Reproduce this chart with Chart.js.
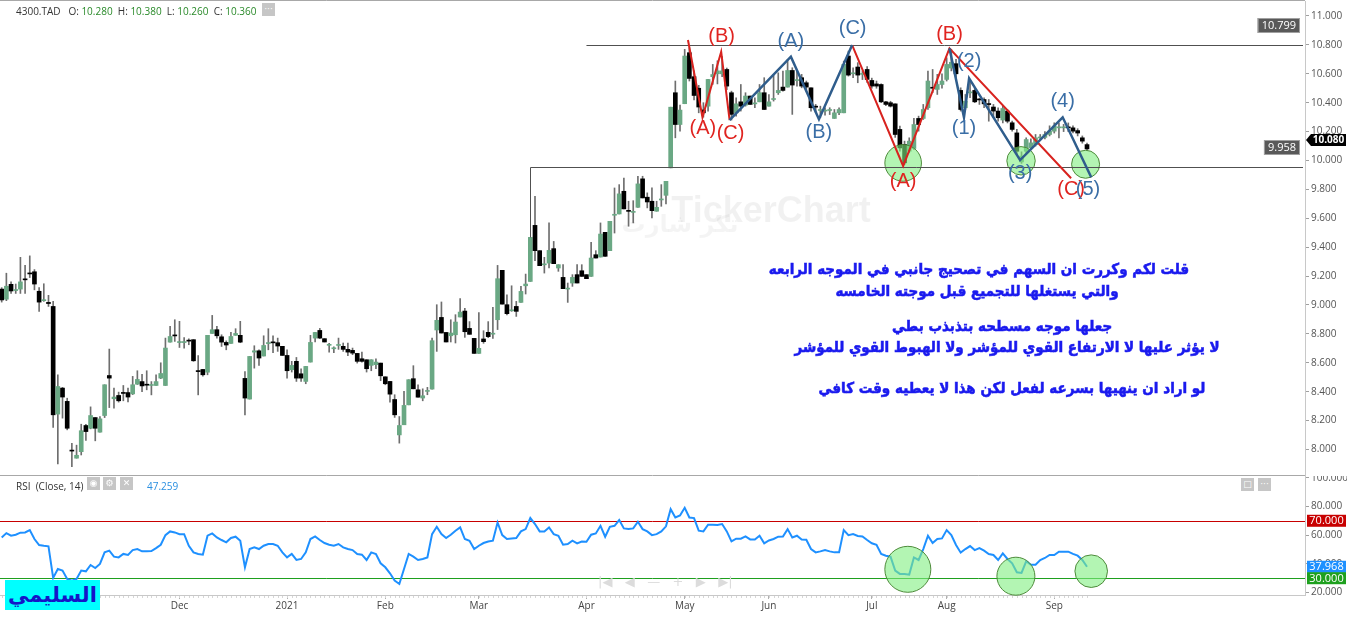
<!DOCTYPE html>
<html>
<head>
<meta charset="utf-8">
<title>4300.TAD</title>
<script src="https://cdn.jsdelivr.net/npm/chart.js@4.4.1/dist/chart.umd.min.js"></script>
<style>
  body { margin: 0; background: #fff; }
  #wrap { position: relative; width: 1347px; height: 617px; overflow: hidden; font-family: "Open Sans", sans-serif; }
  canvas { position: absolute; left: 0; }
  #priceChart { top: 0; }
  #rsiChart { top: 476px; }
  .lbl { position: absolute; font-size: 10px; color: #333; white-space: pre; line-height: 14px; }
  .val { color: #2a8a2a; }
  .btn { position: absolute; width: 13px; height: 13px; background: #c6c6c6; color: #fff; font: 9px "DejaVu Sans"; line-height: 13px; text-align: center; }
  #logo { position: absolute; left: 5px; top: 580px; width: 95px; height: 30px; background: #00ffff; color: #1515c8; font: bold 21px "DejaVu Sans"; text-align: center; line-height: 30px; }
  #nav { position: absolute; left: 598px; top: 574px; color: #dcdcdc; font: 13px "DejaVu Sans"; white-space: pre; }
</style>
</head>
<body>
<div id="wrap">
  <canvas id="priceChart" width="1347" height="476"></canvas>
  <canvas id="rsiChart" width="1347" height="141"></canvas>
  <div class="lbl" id="hdr" style="left:16px;top:4px"></div>
  <div class="btn" style="left:262px;top:3px">···</div>
  <div class="lbl" id="rsiHdr" style="left:16px;top:479px"></div>
  <div class="btn" style="left:87px;top:477px">◉</div>
  <div class="btn" style="left:103px;top:477px">⚙</div>
  <div class="btn" style="left:120px;top:477px">✕</div>
  <div class="lbl" id="rsiVal" style="left:147px;top:479px;color:#2a8fe0"></div>
  <div class="btn" style="left:1241px;top:478px">□</div>
  <div class="btn" style="left:1258px;top:478px">···</div>
  <div id="nav">|◀   ◀   —   +   ▶   ▶|</div>
  <div id="logo">السليمي</div>
</div>
<script>
const TICKER = "4300.TAD";

// daily candles, oldest first
const opens = [
  9.11, 9.04, 9.143, 9.10, 9.11, 9.175, 9.22, 9.23, 9.095, 9.03,
  9.018, 8.99, 8.245, 8.425, 8.333, 7.99, 7.94, 7.985, 8.166, 8.147,
  8.221, 8.12, 8.235, 8.512, 8.351, 8.374, 8.39, 8.394, 8.385, 8.452,
  8.47, 8.448, 8.443, 8.443, 8.494, 8.443, 8.743, 8.787, 8.74, 8.74,
  8.753, 8.76, 8.54, 8.554, 8.535, 8.803, 8.829, 8.78, 8.741, 8.734,
  8.79, 8.79, 8.492, 8.349, 8.674, 8.683, 8.647, 8.733, 8.739, 8.739,
  8.714, 8.651, 8.552, 8.61, 8.524, 8.471, 8.605, 8.771, 8.824, 8.767,
  8.721, 8.697, 8.72, 8.714, 8.693, 8.686, 8.665, 8.628, 8.621, 8.582,
  8.587, 8.598, 8.503, 8.471, 8.346, 8.101, 8.171, 8.309, 8.49, 8.413,
  8.356, 8.402, 8.418, 8.827, 8.914, 8.81, 8.787, 8.794, 8.917, 8.958,
  8.838, 8.769, 8.665, 8.765, 8.811, 8.798, 8.898, 9.24, 9.002, 8.96,
  8.99, 9.018, 9.133, 9.163, 9.551, 9.376, 9.278, 9.29, 9.39, 9.256,
  9.191, 9.11, 9.152, 9.21, 9.237, 9.21, 9.198, 9.348, 9.332, 9.503,
  9.376, 9.621, 9.63, 9.787, 9.649, 9.641, 9.676, 9.873, 9.746, 9.718,
  9.649, 9.727, 9.759, 9.949, 10.469, 10.249, 10.393, 10.746, 10.58, 10.50,
  10.35, 10.376, 10.58, 10.60, 10.60, 10.63, 10.469, 10.33, 10.406, 10.383,
  10.446, 10.392, 10.406, 10.469, 10.376, 10.422, 10.469, 10.508, 10.508, 10.623,
  10.553, 10.573, 10.538, 10.503, 10.37, 10.346, 10.342, 10.346, 10.291, 10.33,
  10.33, 10.723, 10.60, 10.647, 10.596, 10.63, 10.554, 10.53, 10.526, 10.406,
  10.40, 10.392, 10.215, 10.111, 10.064, 10.083, 10.291, 10.291, 10.365, 10.503,
  10.492, 10.526, 10.561, 10.64, 10.67, 10.485, 10.365, 10.468, 10.485, 10.42,
  10.422, 10.388, 10.37, 10.342, 10.28, 10.342, 10.261, 10.191, 9.99, 10.064,
  10.087, 10.11, 10.156, 10.16, 10.18, 10.203, 10.226, 10.226, 10.228, 10.226,
  10.207, 10.157, 10.11
];
const highs = [
  9.12, 9.22, 9.16, 9.145, 9.33, 9.275, 9.34, 9.245, 9.12, 9.147,
  9.067, 9.025, 8.517, 8.43, 8.355, 8.043, 8.03, 8.175, 8.175, 8.295,
  8.221, 8.228, 8.448, 8.695, 8.425, 8.397, 8.443, 8.425, 8.506, 8.545,
  8.52, 8.545, 8.47, 8.517, 8.60, 8.771, 8.852, 8.898, 8.887, 8.775,
  8.766, 8.76, 8.65, 8.554, 8.79, 8.928, 8.852, 8.794, 8.752, 8.81,
  8.836, 8.887, 8.54, 8.644, 8.718, 8.69, 8.787, 8.836, 8.787, 8.771,
  8.714, 8.69, 8.61, 8.637, 8.559, 8.575, 8.79, 8.81, 8.838, 8.767,
  8.734, 8.711, 8.771, 8.737, 8.737, 8.702, 8.665, 8.674, 8.621, 8.621,
  8.628, 8.598, 8.503, 8.471, 8.379, 8.228, 8.402, 8.483, 8.58, 8.448,
  8.42, 8.43, 8.771, 9.002, 9.021, 8.81, 8.898, 8.933, 9.044, 8.977,
  8.885, 8.769, 8.947, 8.822, 8.885, 8.984, 9.274, 9.24, 9.071, 9.133,
  9.025, 9.129, 9.214, 9.468, 9.752, 9.376, 9.33, 9.568, 9.44, 9.279,
  9.279, 9.152, 9.21, 9.279, 9.279, 9.21, 9.434, 9.376, 9.568, 9.503,
  9.579, 9.81, 9.833, 9.879, 9.718, 9.722, 9.891, 9.891, 9.776, 9.81,
  9.718, 9.833, 9.856, 10.369, 10.55, 10.383, 10.769, 10.78, 10.62, 10.52,
  10.40, 10.561, 10.665, 10.69, 10.72, 10.64, 10.48, 10.434, 10.526, 10.469,
  10.446, 10.434, 10.526, 10.573, 10.457, 10.596, 10.607, 10.619, 10.70, 10.642,
  10.619, 10.596, 10.55, 10.503, 10.388, 10.376, 10.365, 10.365, 10.353, 10.365,
  10.688, 10.757, 10.642, 10.677, 10.62, 10.65, 10.57, 10.55, 10.531, 10.41,
  10.41, 10.392, 10.238, 10.134, 10.157, 10.291, 10.307, 10.388, 10.619, 10.63,
  10.596, 10.60, 10.711, 10.77, 10.70, 10.503, 10.457, 10.561, 10.503, 10.43,
  10.434, 10.422, 10.388, 10.365, 10.38, 10.353, 10.272, 10.215, 10.06, 10.157,
  10.15, 10.18, 10.18, 10.20, 10.24, 10.261, 10.261, 10.25, 10.26, 10.24,
  10.22, 10.17, 10.12
];
const lows = [
  9.02, 9.03, 9.08, 9.08, 9.08, 9.08, 9.19, 9.105, 8.955, 9.025,
  8.99, 8.152, 7.90, 8.217, 8.136, 7.882, 7.94, 7.962, 8.062, 8.143,
  8.06, 8.12, 8.221, 8.29, 8.286, 8.328, 8.337, 8.33, 8.38, 8.45,
  8.40, 8.413, 8.378, 8.443, 8.49, 8.443, 8.743, 8.748, 8.706, 8.702,
  8.725, 8.61, 8.378, 8.508, 8.517, 8.803, 8.771, 8.713, 8.69, 8.734,
  8.79, 8.739, 8.24, 8.349, 8.563, 8.582, 8.647, 8.69, 8.67, 8.679,
  8.651, 8.494, 8.536, 8.471, 8.471, 8.455, 8.605, 8.744, 8.767, 8.744,
  8.674, 8.67, 8.693, 8.679, 8.649, 8.656, 8.598, 8.605, 8.536, 8.545,
  8.559, 8.476, 8.448, 8.328, 8.222, 8.044, 8.171, 8.309, 8.42, 8.362,
  8.337, 8.379, 8.418, 8.679, 8.806, 8.744, 8.744, 8.737, 8.917, 8.776,
  8.797, 8.665, 8.665, 8.735, 8.774, 8.769, 8.83, 9.006, 8.932, 8.956,
  8.921, 9.018, 9.076, 9.163, 9.307, 9.272, 9.221, 9.256, 9.286, 9.233,
  9.113, 9.018, 9.129, 9.152, 9.198, 9.182, 9.198, 9.325, 9.332, 9.337,
  9.376, 9.498, 9.63, 9.665, 9.545, 9.568, 9.676, 9.741, 9.672, 9.602,
  9.649, 9.683, 9.699, 9.949, 10.157, 10.203, 10.393, 10.55, 10.42, 10.33,
  10.30, 10.342, 10.527, 10.53, 10.58, 10.49, 10.28, 10.307, 10.342, 10.376,
  10.388, 10.365, 10.406, 10.353, 10.376, 10.411, 10.457, 10.48, 10.508, 10.319,
  10.515, 10.503, 10.48, 10.342, 10.33, 10.296, 10.314, 10.318, 10.291, 10.318,
  10.33, 10.584, 10.573, 10.538, 10.56, 10.54, 10.50, 10.50, 10.40, 10.38,
  10.37, 10.16, 10.064, 9.972, 10.053, 10.076, 10.203, 10.284, 10.353, 10.469,
  10.457, 10.50, 10.55, 10.62, 10.57, 10.342, 10.353, 10.434, 10.40, 10.388,
  10.365, 10.272, 10.296, 10.272, 10.26, 10.26, 10.203, 10.041, 9.98, 10.053,
  10.08, 10.10, 10.14, 10.15, 10.17, 10.19, 10.157, 10.20, 10.20, 10.19,
  10.17, 10.12, 10.07
];
const closes = [
  9.035, 9.13, 9.097, 9.101, 9.16, 9.174, 9.215, 9.145, 9.02, 9.035,
  9.01, 8.24, 8.436, 8.363, 8.147, 7.989, 7.96, 8.13, 8.124, 8.235,
  8.147, 8.212, 8.448, 8.494, 8.363, 8.337, 8.388, 8.363, 8.448, 8.485,
  8.44, 8.445, 8.444, 8.47, 8.526, 8.702, 8.782, 8.786, 8.741, 8.741,
  8.75, 8.614, 8.539, 8.517, 8.79, 8.829, 8.787, 8.743, 8.723, 8.782,
  8.803, 8.743, 8.356, 8.644, 8.683, 8.633, 8.72, 8.734, 8.738, 8.716,
  8.651, 8.545, 8.582, 8.494, 8.494, 8.575, 8.741, 8.81, 8.771, 8.744,
  8.722, 8.698, 8.722, 8.693, 8.674, 8.667, 8.61, 8.61, 8.559, 8.621,
  8.605, 8.51, 8.455, 8.383, 8.24, 8.166, 8.305, 8.483, 8.42, 8.362,
  8.372, 8.403, 8.753, 8.894, 8.806, 8.744, 8.806, 8.882, 8.951, 8.815,
  8.797, 8.665, 8.70, 8.746, 8.781, 8.799, 9.182, 9.006, 8.94, 8.961,
  8.956, 9.094, 9.145, 9.468, 9.376, 9.272, 9.279, 9.378, 9.286, 9.279,
  9.113, 9.111, 9.191, 9.152, 9.198, 9.182, 9.325, 9.325, 9.491, 9.337,
  9.579, 9.622, 9.769, 9.665, 9.648, 9.642, 9.838, 9.741, 9.713, 9.653,
  9.676, 9.728, 9.856, 10.369, 10.249, 10.349, 10.723, 10.568, 10.45, 10.37,
  10.33, 10.561, 10.595, 10.62, 10.62, 10.515, 10.319, 10.392, 10.376, 10.446,
  10.388, 10.393, 10.469, 10.353, 10.406, 10.423, 10.485, 10.485, 10.623, 10.522,
  10.554, 10.515, 10.508, 10.365, 10.369, 10.347, 10.343, 10.347, 10.33, 10.353,
  10.665, 10.591, 10.601, 10.591, 10.597, 10.561, 10.515, 10.515, 10.406, 10.388,
  10.376, 10.18, 10.087, 9.984, 10.134, 10.249, 10.249, 10.353, 10.55, 10.50,
  10.526, 10.55, 10.665, 10.68, 10.60, 10.353, 10.411, 10.469, 10.406, 10.419,
  10.392, 10.387, 10.342, 10.296, 10.36, 10.272, 10.215, 10.064, 10.03, 10.145,
  10.122, 10.157, 10.157, 10.18, 10.203, 10.238, 10.227, 10.227, 10.226, 10.203,
  10.19, 10.134, 10.08
];

// RSI (Close, 14), one value per candle
const rsiValues = [
  58.4, 61.4, 59.6, 60.3, 61.7, 61.9, 63.5, 57.3, 53.1, 52.6,
  52.2, 30.2, 36.4, 35.3, 29.5, 28.3, 29.5, 35.3, 34.8, 39.2,
  37.1, 39.9, 48, 49.2, 45, 44.5, 46.9, 46.2, 49.6, 50.3,
  48.7, 48.7, 48.9, 51, 53.3, 60, 62.6, 61.9, 60.7, 60.7,
  52.6, 48, 46.9, 46.4, 59.6, 61.2, 58.4, 56.6, 55, 58,
  58.9, 56.1, 37.6, 50.3, 51.5, 50.3, 52.6, 53.8, 53.8, 52.6,
  48, 44.5, 46.9, 42.7, 43.4, 48, 57.3, 59.1, 56.6, 54.5,
  53.3, 52.6, 53.8, 51.5, 50.3, 49.6, 46.9, 46.4, 42.7, 48,
  46.9, 40.4, 37.6, 33.4, 28.3, 26, 36.4, 46.9, 45, 42.7,
  43.4, 44.5, 60.7, 65.8, 60.7, 58, 60.3, 63.1, 65.4, 57.3,
  56.1, 50.3, 52.6, 54.5, 55.6, 56.1, 68.8, 60, 57.3, 57.7,
  58, 62.6, 64.2, 71.9, 67.7, 62.6, 62.6, 65.4, 60.7, 59.6,
  53.3, 53.8, 56.1, 54.3, 55.6, 55.4, 60.3, 61.2, 66.5, 58.9,
  65.8, 66.5, 70.5, 64.7, 64.2, 64.7, 69.3, 64.2, 62.6, 60,
  60.7, 62.6, 66.1, 78.1, 72.3, 73.7, 79, 72.3, 71.9, 63.1,
  62.6, 67.2, 67.2, 67, 67.7, 62.6, 55.6, 57.5, 57.5, 59.1,
  57, 57, 59.6, 54.3, 56.3, 57.3, 58.9, 59.1, 64.2, 58.4,
  59.6, 57, 56.8, 50.3, 48, 48.7, 49.6, 48.7, 48, 48,
  63.5, 60, 60.7, 59.4, 59.1, 56.6, 54.3, 53.3, 46.9, 45.7,
  45, 35.3, 33, 33, 32.5, 44.5, 42.7, 50.3, 59.6, 54.5,
  57.3, 57.7, 63.5, 60, 53.1, 47.8, 50.3, 52.4, 49.6, 51,
  49.2, 46.9, 46.2, 42.7, 47.259, 43.4, 40.4, 34.1, 33.7, 41.8,
  39.4, 39.4, 42.7, 44.1, 46.2, 46.2, 48.5, 48.5, 48.5, 46.9,
  45.7, 42.7, 37.968
];

const priceTicks = [8.0, 8.2, 8.4, 8.6, 8.8, 9.0, 9.2, 9.4, 9.6, 9.8, 10.0, 10.2, 10.4, 10.6, 10.8, 11.0];
const rsiTicks = [20, 40, 60, 80, 100];
const rsiLevels = [70, 30];
const monthIdx = [38, 61, 82, 102, 125, 146, 164, 186, 202, 225];
const monthLabels = ["Dec", "2021", "Feb", "Mar", "Apr", "May", "Jun", "Jul", "Aug", "Sep"];
const hoverIdx = 214; // candle under the crosshair (header values)

// drawn levels and wave count, in (candle index, price)
const resistance = 10.799, resistanceFrom = 125;
const support = 9.958, supportFrom = 113;
const redWaves = [
  [[146.7, 10.834], [149.8, 10.299], [153.8, 10.753], [155.6, 10.28]],
  [[181.8, 10.799], [192.7, 9.962], [202.6, 10.776], [228.6, 9.877]]
];
const blueWaves = [
  [[155.6, 10.28], [168.7, 10.718], [174.7, 10.285], [181.8, 10.799]],
  [[202.6, 10.776], [205.7, 10.299], [206.8, 10.569], [217.7, 10.003], [226.8, 10.299], [232.9, 9.884]]
];
const redLabels = [
  ["(B)", 153.9, 10.857], ["(A)", 149.9, 10.223], ["(C)", 155.8, 10.188],
  ["(B)", 202.6, 10.875], ["(A)", 192.7, 9.853], ["(C)", 228.6, 9.80]
];
const blueLabels = [
  ["(A)", 168.7, 10.822], ["(B)", 174.7, 10.192], ["(C)", 181.9, 10.917],
  ["(2)", 206.8, 10.684], ["(1)", 205.7, 10.223], ["(3)", 217.7, 9.911],
  ["(4)", 226.8, 10.407], ["(5)", 232.2, 9.80]
];
const priceCircles = [[192.7, 9.983], [217.9, 9.998], [231.7, 9.974]];
const rsiCircles = [[193.7, 36.2], [216.8, 31.4], [232.9, 34.9]];

const noteLines = [
  "قلت لكم وكررت ان السهم في تصحيج جانبي في الموجه الرابعه",
  "والتي يستغلها للتجميع قبل موجته الخامسه",
  "جعلها موجه مسطحه بتذبذب بطي",
  "لا يؤثر عليها لا الارتفاع القوي للمؤشر ولا الهبوط القوي للمؤشر",
  "لو اراد ان ينهيها بسرعه لفعل لكن هذا لا يعطيه وقت كافي"
];

// ---- layout / style ----
const X_MIN = -0.363, X_MAX = 278.6;
const P_MIN = 7.8235, P_MAX = 11.1038;
const R_MIN = 18.31, R_MAX = 101.18;
const AXIS_W = 42;
const GREEN = "#6aa884", BLACK = "#000000", WICK = "#6e6e6e";
const RED = "#d8231f", BLUE = "#2f5d8c";
const priceCircleR = [18.3, 14.2, 14];
const rsiCircleR = [23, 19, 16.3];
const notePos = [[979, 270], [977, 292], [1002, 327], [1007, 348], [1012, 389]];
const noteSquash = 0.9;

Chart.defaults.font.family = '"Open Sans", sans-serif';
Chart.defaults.font.size = 10;

const idx = closes.map((c, i) => i);
const bodyColors = idx.map(i => (closes[i] >= opens[i] ? GREEN : BLACK));

// header
const f3 = v => v.toFixed(3);
document.getElementById("hdr").innerHTML =
  TICKER + "   O: <span class='val'>" + f3(opens[hoverIdx]) + "</span>  H: <span class='val'>" + f3(highs[hoverIdx]) +
  "</span>  L: <span class='val'>" + f3(lows[hoverIdx]) + "</span>  C: <span class='val'>" + f3(closes[hoverIdx]) + "</span>";
document.getElementById("rsiHdr").textContent = "RSI  (Close, 14)";
document.getElementById("rsiVal").textContent = f3(rsiValues[hoverIdx]);

function circle(ctx, x, y, r) {
  ctx.beginPath();
  ctx.arc(x, y, r, 0, Math.PI * 2);
  ctx.fillStyle = "rgba(128, 238, 128, 0.6)";
  ctx.fill();
  ctx.lineWidth = 1;
  ctx.strokeStyle = "#4d8a3a";
  ctx.stroke();
}

function tag(ctx, text, x, yc, w, h, bg, fg, border) {
  ctx.fillStyle = bg;
  ctx.fillRect(x, yc - h / 2, w, h);
  if (border) {
    ctx.strokeStyle = border;
    ctx.lineWidth = 1;
    ctx.strokeRect(x + 0.5, yc - h / 2 + 0.5, w - 1, h - 1);
  }
  ctx.fillStyle = fg;
  ctx.textAlign = "center";
  ctx.textBaseline = "middle";
  ctx.fillText(text, x + w / 2, yc + 0.5);
}

const priceOverlay = {
  id: "priceOverlay",
  beforeDatasetsDraw(chart) {
    const { ctx } = chart;
    ctx.save();
    ctx.fillStyle = "rgba(0,0,0,0.055)";
    ctx.textAlign = "center";
    ctx.textBaseline = "middle";
    ctx.font = 'bold 36px "Liberation Sans"';
    ctx.fillText("TickerChart", 771, 212);
    ctx.font = 'bold 24px "DejaVu Sans"';
    ctx.fillStyle = "rgba(0,0,0,0.045)";
    ctx.fillText("تكر شارت", 680, 226);
    ctx.restore();
  },
  afterDatasetsDraw(chart) {
    const { ctx, chartArea, scales: { x, y } } = chart;
    const px = v => x.getPixelForValue(v);
    const py = v => y.getPixelForValue(v);
    ctx.save();

    priceCircles.forEach((c, k) => circle(ctx, px(c[0]), py(c[1]), priceCircleR[k]));

    // resistance / support
    ctx.strokeStyle = "#505050";
    ctx.lineWidth = 1;
    const yr = Math.round(py(resistance)) + 0.5;
    const ys = Math.round(py(support)) + 0.5;
    const xs = Math.round(px(supportFrom)) + 0.5;
    ctx.beginPath();
    ctx.moveTo(px(resistanceFrom), yr);
    ctx.lineTo(chartArea.right - 2, yr);
    ctx.moveTo(xs, py(highs[supportFrom]));
    ctx.lineTo(xs, ys);
    ctx.lineTo(chartArea.right - 2, ys);
    ctx.stroke();

    // wave lines
    const path = (pts, color, w) => {
      ctx.beginPath();
      pts.forEach((p, k) => (k ? ctx.lineTo(px(p[0]), py(p[1])) : ctx.moveTo(px(p[0]), py(p[1]))));
      ctx.strokeStyle = color;
      ctx.lineWidth = w;
      ctx.lineJoin = "miter";
      ctx.stroke();
    };
    redWaves.forEach(w => path(w, RED, 2));
    blueWaves.forEach(w => path(w, BLUE, 2.5));

    ctx.font = '20px "Liberation Sans"';
    ctx.textAlign = "center";
    ctx.textBaseline = "middle";
    ctx.fillStyle = "#e02420";
    redLabels.forEach(l => ctx.fillText(l[0], px(l[1]), py(l[2])));
    ctx.fillStyle = "#3a6ea6";
    blueLabels.forEach(l => ctx.fillText(l[0], px(l[1]), py(l[2])));

    // level tags
    ctx.font = '11px "Open Sans"';
    [[resistance, yr], [support, ys]].forEach(([v, yy]) => {
      const t = f3(v);
      const w = ctx.measureText(t).width + 8;
      tag(ctx, t, chartArea.right - 5 - w, yy - 20, w, 15, "#595959", "#fff", "#a0a0a0");
    });

    // notes (heavy blue Arabic text)
    ctx.font = 'bold 15px "DejaVu Sans"';
    ctx.fillStyle = "#1a1aee";
    ctx.strokeStyle = "#1a1aee";
    ctx.lineWidth = 0.6;
    ctx.direction = "rtl";
    ctx.textAlign = "center";
    noteLines.forEach((t, k) => {
      ctx.save();
      ctx.translate(notePos[k][0], notePos[k][1]);
      ctx.scale(noteSquash, 1);
      ctx.fillText(t, 0, 0);
      ctx.strokeText(t, 0, 0);
      ctx.restore();
    });
    ctx.restore();
  },
  afterDraw(chart) {
    const { ctx, chartArea, scales: { y } } = chart;
    ctx.save();
    ctx.strokeStyle = "#a8a8a8";
    ctx.lineWidth = 1;
    ctx.beginPath();
    ctx.moveTo(0, 0.5);
    ctx.lineTo(chartArea.right, 0.5);
    ctx.moveTo(0, chart.height - 0.5);
    ctx.lineTo(chartArea.right, chart.height - 0.5);
    ctx.stroke();
    // last close tag
    const last = closes[closes.length - 1];
    const yc = y.getPixelForValue(last) - 9;
    const x0 = chartArea.right + 1;
    ctx.fillStyle = "#000";
    ctx.beginPath();
    ctx.moveTo(x0, yc);
    ctx.lineTo(x0 + 5, yc - 6);
    ctx.lineTo(chart.width - 1, yc - 6);
    ctx.lineTo(chart.width - 1, yc + 6);
    ctx.lineTo(x0 + 5, yc + 6);
    ctx.closePath();
    ctx.fill();
    ctx.fillStyle = "#fff";
    ctx.font = 'bold 10px "Open Sans"';
    ctx.textAlign = "center";
    ctx.textBaseline = "middle";
    ctx.fillText(f3(last), x0 + 5 + (chart.width - x0 - 6) / 2, yc + 0.5);
    ctx.restore();
  }
};

const rsiOverlay = {
  id: "rsiOverlay",
  beforeDatasetsDraw(chart) {
    const { ctx, chartArea, scales: { y } } = chart;
    ctx.save();
    ctx.lineWidth = 1;
    rsiLevels.forEach((v, k) => {
      const yy = Math.round(y.getPixelForValue(v)) + 0.5;
      ctx.strokeStyle = k === 0 ? "#c80000" : "#1ea01e";
      ctx.beginPath();
      ctx.moveTo(chartArea.left, yy);
      ctx.lineTo(chartArea.right, yy);
      ctx.stroke();
    });
    ctx.restore();
  },
  afterDatasetsDraw(chart) {
    const { ctx, scales: { x, y } } = chart;
    ctx.save();
    rsiCircles.forEach((c, k) => circle(ctx, x.getPixelForValue(c[0]), y.getPixelForValue(c[1]), rsiCircleR[k]));
    ctx.restore();
  },
  afterDraw(chart) {
    const { ctx, chartArea, scales: { x, y } } = chart;
    ctx.save();
    // faint daily ticks on the time axis
    ctx.fillStyle = "#d6d6d6";
    idx.forEach(i => ctx.fillRect(Math.round(x.getPixelForValue(i)), chartArea.bottom + 1, 1, 2));
    ctx.font = '11px "Open Sans"';
    const xl = chartArea.right + 2, w = chart.width - xl - 1;
    const lastRsi = rsiValues[rsiValues.length - 1];
    tag(ctx, f3(rsiLevels[0]), xl, y.getPixelForValue(rsiLevels[0]), w, 12, "#c80000", "#fff");
    tag(ctx, f3(lastRsi), xl, y.getPixelForValue(lastRsi), w, 12, "#1e90ff", "#fff");
    tag(ctx, f3(rsiLevels[1]), xl, y.getPixelForValue(rsiLevels[1]), w, 12, "#1ea01e", "#fff");
    ctx.restore();
  }
};

const yAxisCommon = {
  position: "right",
  afterFit: s => { s.width = AXIS_W; s.paddingTop = 0; s.paddingBottom = 0; },
  ticks: { color: "#555", padding: 2, callback: v => f3(v) },
  grid: { drawOnChartArea: false, tickLength: 4, color: "#a0a0a0" },
  border: { color: "#c8c8c8" }
};

new Chart(document.getElementById("priceChart"), {
  type: "bar",
  data: {
    datasets: [
      {
        data: idx.map(i => ({ x: i, y: [opens[i], closes[i]] })),
        backgroundColor: bodyColors,
        barThickness: 4,
        minBarLength: 1,
        grouped: false,
        order: 0
      },
      {
        data: idx.map(i => ({ x: i, y: [lows[i], highs[i]] })),
        backgroundColor: WICK,
        barThickness: 1,
        grouped: false,
        order: 1
      }
    ]
  },
  options: {
    responsive: false,
    animation: false,
    devicePixelRatio: 1,
    layout: { padding: { top: 1, bottom: 1, left: 0, right: 0 } },
    plugins: { legend: { display: false }, tooltip: { enabled: false } },
    scales: {
      x: { type: "linear", display: false, min: X_MIN, max: X_MAX, offset: false },
      y: Object.assign({}, yAxisCommon, {
        min: P_MIN,
        max: P_MAX,
        afterBuildTicks: s => { s.ticks = priceTicks.map(v => ({ value: v })); }
      })
    }
  },
  plugins: [priceOverlay]
});

new Chart(document.getElementById("rsiChart"), {
  type: "line",
  data: {
    datasets: [{
      data: idx.map(i => ({ x: i, y: rsiValues[i] })),
      borderColor: "#1e90ff",
      borderWidth: 2,
      pointRadius: 0,
      tension: 0
    }]
  },
  options: {
    responsive: false,
    animation: false,
    devicePixelRatio: 1,
    layout: { padding: 0 },
    plugins: { legend: { display: false }, tooltip: { enabled: false } },
    scales: {
      x: {
        type: "linear",
        min: X_MIN,
        max: X_MAX,
        afterBuildTicks: s => { s.ticks = monthIdx.map(v => ({ value: v })); },
        afterFit: s => { s.height = 22; s.paddingLeft = 0; s.paddingRight = 0; },
        ticks: { color: "#444", padding: 1, maxRotation: 0, autoSkip: false, callback: (v, k) => monthLabels[k] },
        grid: { drawOnChartArea: false, tickLength: 4, color: "#b0b0b0" },
        border: { color: "#c8c8c8" }
      },
      y: Object.assign({}, yAxisCommon, {
        min: R_MIN,
        max: R_MAX,
        afterBuildTicks: s => { s.ticks = rsiTicks.map(v => ({ value: v })); }
      })
    }
  },
  plugins: [rsiOverlay]
});
</script>
</body>
</html>
